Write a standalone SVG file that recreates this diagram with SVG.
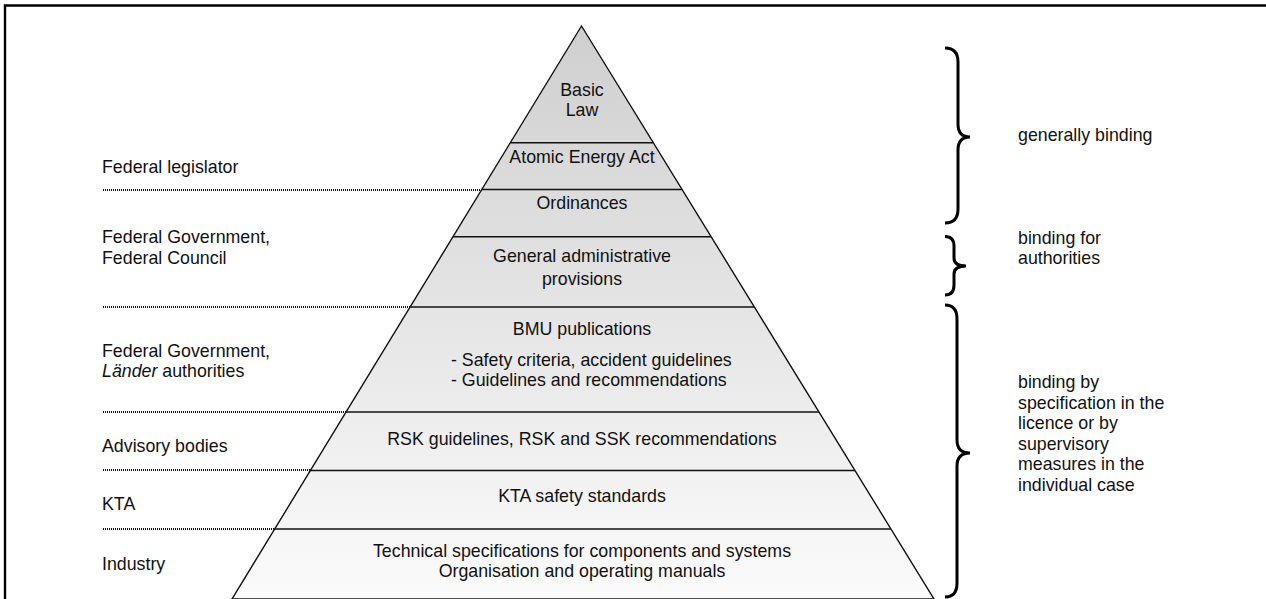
<svg xmlns="http://www.w3.org/2000/svg" width="1266" height="599" viewBox="0 0 1266 599">
<defs>
<linearGradient id="pg" gradientUnits="userSpaceOnUse" x1="0" y1="26" x2="0" y2="599">
<stop offset="0" stop-color="#cfcfcf"/>
<stop offset="1" stop-color="#fbfbfb"/>
</linearGradient>
</defs>
<style>
text{font-family:"Liberation Sans",Arial,sans-serif;font-size:17.8px;fill:#111}
.c{text-anchor:middle}
.row{stroke:#111;stroke-width:1.4}
.dot{stroke:#111;stroke-width:2;stroke-dasharray:1 1}
.brace{fill:none;stroke:#000;stroke-width:3}
</style>
<rect width="1266" height="599" fill="#fff"/>
<path d="M5,599 L5,5.5 L1266,5.5" fill="none" stroke="#000" stroke-width="2.4"/>

<g id="pyramid">
<polygon points="581.5,26 232,599 934,599" fill="url(#pg)" stroke="#111" stroke-width="1.4"/>
</g>

<g id="connectors">
<line class="row" x1="510.3" y1="142.7" x2="653.3" y2="142.7"/>
<line class="row" x1="481.8" y1="189.5" x2="682.1" y2="189.5"/>
<line class="row" x1="453" y1="236.7" x2="711.1" y2="236.7"/>
<line class="row" x1="410.1" y1="307" x2="754.3" y2="307"/>
<line class="row" x1="346" y1="412" x2="818.9" y2="412"/>
<line class="row" x1="310.4" y1="470.5" x2="854.9" y2="470.5"/>
<line class="row" x1="274.7" y1="529" x2="890.8" y2="529"/>
<line class="dot" x1="103" y1="190" x2="481.5" y2="190"/>
<line class="dot" x1="103" y1="307" x2="410" y2="307"/>
<line class="dot" x1="103" y1="412" x2="346" y2="412"/>
<line class="dot" x1="103" y1="470" x2="310" y2="470"/>
<line class="dot" x1="103" y1="529" x2="274.5" y2="529"/>
</g>

<g id="level-basic-law"><text class="c" x="582" y="96">Basic</text><text class="c" x="582" y="116">Law</text></g>
<g id="level-atomic"><text class="c" x="582" y="163">Atomic Energy Act</text></g>
<g id="level-ordinances"><text class="c" x="582" y="209">Ordinances</text></g>
<g id="level-admin"><text class="c" x="582" y="262">General administrative</text><text class="c" x="582" y="285">provisions</text></g>
<g id="level-bmu"><text class="c" x="582" y="335">BMU publications</text><text x="451" y="366">- Safety criteria, accident guidelines</text><text x="451" y="386">- Guidelines and recommendations</text></g>
<g id="level-rsk"><text class="c" x="582" y="445">RSK guidelines, RSK and SSK recommendations</text></g>
<g id="level-kta"><text class="c" x="582" y="502">KTA safety standards</text></g>
<g id="level-industry"><text class="c" x="582" y="557">Technical specifications for components and systems</text><text class="c" x="582" y="577">Organisation and operating manuals</text></g>

<g id="actor-legislator"><text x="102" y="173">Federal legislator</text></g>
<g id="actor-gov-council"><text x="102" y="243">Federal Government,</text><text x="102" y="263.5">Federal Council</text></g>
<g id="actor-gov-laender"><text x="102" y="356.5">Federal Government,</text><text x="102" y="377"><tspan font-style="italic">Länder</tspan> authorities</text></g>
<g id="actor-advisory"><text x="102" y="452">Advisory bodies</text></g>
<g id="actor-kta"><text x="102" y="510">KTA</text></g>
<g id="actor-industry"><text x="102" y="570">Industry</text></g>

<g id="brace-general">
<path class="brace" d="M945,48 Q958,48 958,62 L958,124 Q958,137 970,137 Q958,137 958,150 L958,209 Q958,223 945,223"/>
<text x="1018" y="141">generally binding</text>
</g>
<g id="brace-authorities">
<path class="brace" d="M945,236.5 Q954,236.5 954,246 L954,258 Q954,266 966,266 Q954,266 954,274 L954,285 Q954,295 945,295"/>
<text x="1018" y="244">binding for</text>
<text x="1018" y="264">authorities</text>
</g>
<g id="brace-specification">
<path class="brace" d="M945,305 Q957,305 957,319 L957,440 Q957,453 970,453 Q957,453 957,466 L957,583 Q957,597 945,597"/>
<text x="1018" y="388">binding by</text>
<text x="1018" y="408.5">specification in the</text>
<text x="1018" y="429">licence or by</text>
<text x="1018" y="449.5">supervisory</text>
<text x="1018" y="470">measures in the</text>
<text x="1018" y="490.5">individual case</text>
</g>
</svg>
